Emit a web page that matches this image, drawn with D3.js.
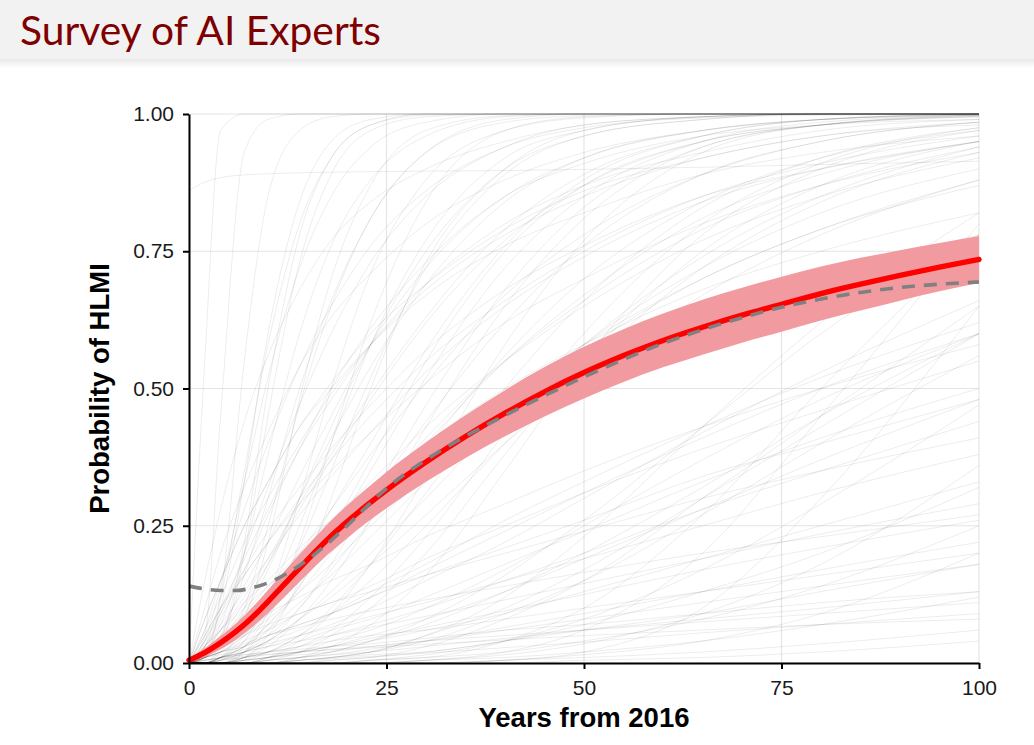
<!DOCTYPE html>
<html><head><meta charset="utf-8">
<script src="https://cdn.jsdelivr.net/npm/d3@7"></script>
<style>html,body{margin:0;padding:0;background:#fff;} svg{display:block}</style>
</head><body><svg id="c" width="1034" height="745"></svg>
<script>
// ---------- DATA ----------
const titleText = "Survey of AI Experts";
const xLabel = "Years from 2016";
const yLabel = "Probability of HLMI";
const xTicks = [0, 25, 50, 75, 100];
const yTicks = [0, 0.25, 0.5, 0.75, 1];

// individual expert CDFs, sampled at these years
const expertYears = [0, 2, 4, 7, 10, 14, 18, 23, 30, 40, 50, 65, 80, 100];
const expertCurves = [
  [0,.55,.97,1,1,1,1,1,1,1,1,1,1,1],
  [0,.05,.45,.93,.99,1,1,1,1,1,1,1,1,1],
  [0,.01,.12,.55,.85,.97,.995,1,1,1,1,1,1,1],
  [0,.02,.1,.33,.6,.84,.95,.99,1,1,1,1,1,1],
  [0,0,.03,.2,.45,.73,.89,.97,.995,1,1,1,1,1],
  [.86,.876,.884,.889,.891,.893,.894,.895,.896,.897,.899,.903,.908,.914],
  [0,.04,.14,.33,.52,.72,.85,.94,.985,1,1,1,1,1],
  [0,0,.01,.08,.22,.48,.7,.87,.97,.997,1,1,1,1],
  [0,.01,.05,.16,.3,.5,.66,.81,.93,.985,.997,1,1,1],
  [0,0,.005,.04,.12,.3,.5,.71,.88,.97,.993,1,1,1],
  [0,.03,.09,.2,.32,.47,.6,.73,.85,.94,.98,.995,1,1],
  [0,0,.01,.05,.12,.25,.4,.58,.77,.92,.97,.995,1,1],
  [0,.06,.15,.28,.4,.54,.65,.76,.86,.94,.975,.993,.998,1],
  [0,0,0,.01,.05,.15,.3,.5,.73,.9,.97,.995,1,1],
  [0,.02,.06,.14,.22,.34,.45,.58,.72,.85,.92,.97,.99,.998],
  [0,0,.01,.03,.07,.14,.23,.35,.52,.72,.85,.95,.985,.998],
  [0,.01,.03,.07,.12,.2,.28,.38,.51,.67,.78,.89,.95,.985],
  [0,0,0,.01,.03,.08,.15,.26,.43,.65,.81,.94,.98,.997],
  [0,.03,.07,.13,.19,.27,.34,.42,.53,.65,.74,.84,.9,.95],
  [0,0,.005,.02,.05,.1,.17,.26,.39,.56,.7,.84,.92,.97],
  [0,.02,.05,.09,.14,.2,.26,.33,.43,.55,.65,.77,.85,.92],
  [0,0,0,.005,.02,.05,.1,.18,.31,.5,.66,.83,.92,.975],
  [0,.04,.09,.16,.22,.3,.37,.45,.55,.66,.75,.85,.91,.96],
  [0,0,.01,.03,.06,.11,.16,.23,.33,.46,.58,.72,.82,.9],
  [0,0,0,0,.01,.03,.06,.12,.23,.42,.6,.8,.91,.975],
  [0,.01,.02,.05,.08,.13,.18,.25,.34,.46,.57,.7,.79,.88],
  [0,.05,.1,.17,.24,.32,.39,.47,.57,.68,.76,.85,.9,.95],
  [0,0,0,.01,.02,.05,.09,.15,.25,.4,.54,.72,.84,.93],
  [0,.01,.03,.06,.1,.16,.22,.3,.41,.55,.66,.79,.87,.94],
  [0,0,.01,.02,.04,.08,.12,.18,.27,.4,.52,.67,.78,.88],
  [0,.08,.15,.25,.33,.43,.5,.58,.67,.76,.82,.89,.93,.96],
  [0,0,0,0,0,.01,.03,.07,.16,.35,.55,.78,.9,.97],
  [0,.02,.04,.08,.12,.17,.22,.28,.37,.48,.58,.7,.79,.87],
  [0,0,.01,.04,.09,.18,.28,.4,.57,.76,.88,.96,.99,1],
  [0,.01,.04,.1,.18,.3,.41,.54,.69,.84,.92,.97,.99,.998],
  [0,0,0,.02,.06,.14,.24,.37,.55,.75,.87,.95,.98,.995],
  [0,.03,.08,.17,.27,.39,.5,.61,.73,.85,.91,.96,.98,.99],
  [0,0,.01,.02,.04,.06,.09,.13,.18,.26,.33,.43,.52,.62],
  [0,0,0,.005,.01,.02,.04,.06,.1,.17,.25,.37,.48,.6],
  [0,.01,.02,.04,.06,.09,.11,.14,.19,.25,.31,.39,.46,.55],
  [0,0,0,0,.005,.01,.02,.04,.07,.13,.2,.32,.45,.6],
  [0,.02,.04,.06,.09,.12,.15,.18,.23,.29,.35,.43,.5,.58],
  [0,0,.005,.01,.02,.04,.06,.08,.12,.18,.24,.33,.41,.5],
  [0,0,0,0,0,.005,.01,.02,.05,.1,.17,.3,.43,.6],
  [0,.01,.02,.03,.05,.07,.09,.12,.16,.21,.26,.34,.4,.48],
  [0,0,0,.01,.02,.03,.05,.07,.1,.15,.2,.28,.35,.44],
  [0,0,0,0,0,0,.005,.01,.03,.08,.15,.3,.45,.65],
  [0,.02,.03,.05,.07,.09,.11,.13,.16,.2,.24,.3,.35,.41],
  [0,0,0,0,.01,.02,.03,.05,.08,.13,.19,.28,.37,.48],
  [0,0,0,0,0,0,0,0,.005,.02,.06,.2,.45,.8],
  [0,0,0,0,0,0,0,.005,.01,.04,.1,.27,.5,.78],
  [0,0,0,0,0,0,0,0,0,.005,.02,.1,.3,.65],
  [0,0,0,0,0,.005,.01,.02,.05,.12,.23,.43,.62,.82],
  [0,0,0,.005,.01,.015,.02,.03,.04,.06,.08,.11,.14,.18],
  [0,0,0,0,0,.005,.01,.015,.02,.04,.06,.09,.13,.18],
  [0,.005,.01,.015,.02,.03,.04,.05,.06,.08,.1,.13,.16,.2],
  [0,0,0,0,0,0,0,.005,.01,.02,.04,.08,.14,.25],
  [0,0,0,0,.005,.01,.015,.02,.03,.045,.06,.08,.1,.13],
  [0,.005,.01,.015,.02,.025,.03,.035,.045,.06,.07,.09,.11,.13],
  [0,0,0,0,0,0,0,0,.005,.01,.02,.04,.07,.12],
  [0,0,0,0,0,.005,.008,.012,.018,.028,.038,.055,.07,.09],
  [0,0,0,0,0,0,0,0,0,.005,.01,.02,.035,.06],
  [0,.005,.008,.012,.016,.02,.024,.028,.034,.042,.05,.06,.07,.08],
  [0,0,0,.005,.01,.02,.03,.045,.065,.095,.125,.17,.21,.26],
  [0,0,0,0,0,0,.005,.01,.02,.04,.07,.13,.2,.32],
  [0,0,0,0,0,0,0,0,0,0,.005,.01,.02,.04],
  [0,0,.005,.01,.015,.02,.025,.03,.04,.05,.06,.075,.09,.11],
  [0,.15,.28,.44,.56,.68,.77,.84,.9,.95,.98,.995,1,1],
  [0,.08,.15,.25,.33,.43,.51,.6,.69,.79,.86,.92,.96,.98],
  [0,.05,.1,.16,.22,.29,.35,.42,.51,.62,.7,.8,.87,.93],
  [0,.03,.06,.1,.14,.19,.23,.28,.35,.44,.52,.62,.7,.78],
  [0,.1,.2,.32,.42,.54,.63,.71,.8,.88,.93,.97,.99,1],
  [0,0,.02,.1,.25,.47,.65,.81,.93,.99,1,1,1,1],
  [0,.01,.03,.09,.17,.3,.43,.58,.75,.9,.96,.99,1,1],
  [0,0,0,.03,.09,.21,.35,.52,.72,.89,.96,.99,1,1],
  [0,.02,.05,.11,.18,.28,.37,.48,.62,.77,.87,.95,.98,.995],
  [0,0,.01,.03,.07,.13,.2,.3,.44,.62,.76,.89,.95,.985],
  [0,.04,.1,.19,.28,.39,.48,.58,.69,.8,.87,.93,.97,.99],
  [0,0,0,0,.01,.04,.09,.18,.34,.58,.77,.93,.98,.998],
  [0,.01,.02,.05,.09,.15,.21,.29,.4,.55,.67,.81,.89,.95],
  [0,0,0,.01,.04,.1,.18,.3,.47,.68,.83,.94,.98,.996],
  [0,.06,.12,.22,.3,.4,.49,.58,.68,.78,.85,.92,.96,.985],
  [0,0,.005,.02,.04,.08,.13,.2,.3,.45,.58,.74,.85,.94],
  [0,.02,.06,.12,.19,.29,.38,.49,.63,.79,.89,.96,.99,1],
  [0,0,0,0,.005,.02,.05,.1,.2,.38,.55,.75,.87,.95],
  [0,.03,.06,.11,.15,.21,.26,.32,.4,.5,.58,.68,.75,.82],
  [0,0,.01,.02,.03,.05,.07,.1,.15,.22,.3,.42,.53,.66],
  [0,0,0,0,0,.01,.02,.04,.08,.16,.26,.43,.6,.78],
  [0,.01,.02,.03,.05,.07,.09,.12,.17,.24,.31,.41,.5,.6],
  [0,0,0,0,0,0,.01,.02,.04,.09,.15,.27,.4,.56],
  [0,.01,.015,.025,.035,.05,.065,.085,.11,.15,.19,.25,.31,.38],
  [0,0,0,.005,.01,.02,.03,.04,.06,.09,.13,.19,.25,.33],
  [0,0,0,0,0,0,0,.005,.015,.04,.08,.17,.29,.47],
  [0,.005,.01,.02,.03,.04,.05,.065,.085,.115,.145,.19,.235,.29],
  [0,0,0,0,0,0,0,0,.005,.015,.035,.09,.18,.36],
  [0,.01,.02,.035,.05,.065,.08,.095,.115,.14,.165,.2,.23,.27],
  [0,0,0,0,.005,.01,.015,.025,.04,.065,.09,.13,.17,.22],
  [0,0,0,0,0,0,0,0,0,.005,.015,.04,.09,.2],
  [0,.02,.07,.2,.38,.6,.76,.88,.96,.995,1,1,1,1],
  [0,0,.04,.22,.5,.78,.92,.98,1,1,1,1,1,1],
  [0,.03,.12,.35,.58,.8,.92,.98,.998,1,1,1,1,1],
  [0,0,0,.02,.08,.22,.4,.62,.84,.97,.995,1,1,1]
];

// aggregate curves
const aggYears = [0,2,4,6,8,10,12.5,15,17.5,20,22.5,25,30,35,40,45,50,55,60,65,70,75,80,85,90,95,100];
const meanProb = [0.005,0.019,0.037,0.058,0.083,0.112,0.15,0.188,0.2245,0.257,0.287,0.315,0.366,0.4125,0.455,0.494,0.529,0.56,0.5875,0.6115,0.6335,0.6535,0.673,0.69,0.706,0.721,0.735];
const bandLow  = [0.001,0.011,0.025,0.043,0.065,0.091,0.126,0.162,0.1965,0.227,0.256,0.282,0.33,0.3735,0.413,0.449,0.482,0.512,0.5385,0.5615,0.5835,0.6035,0.624,0.642,0.66,0.677,0.692];
const bandHigh = [0.009,0.027,0.049,0.073,0.101,0.133,0.174,0.214,0.2525,0.287,0.318,0.348,0.402,0.4515,0.497,0.539,0.576,0.608,0.6365,0.6615,0.6835,0.7035,0.722,0.738,0.752,0.765,0.778];
const fitProb  = [0.14,0.135,0.132,0.132,0.137,0.146,0.164,0.188,0.217,0.25,0.285,0.318,0.37,0.413,0.451,0.487,0.521,0.553,0.582,0.607,0.629,0.648,0.663,0.675,0.684,0.69,0.694];

// ---------- DRAW ----------
const svg = d3.select("#c");
const W = 1034, H = 745;
const plot = {left: 189, right: 979, top: 114, bottom: 663};

// title band
const defs = svg.append("defs");
const grad = defs.append("linearGradient").attr("id","shadow").attr("x1",0).attr("y1",0).attr("x2",0).attr("y2",1);
grad.append("stop").attr("offset","0%").attr("stop-color","#e9e9e9");
grad.append("stop").attr("offset","100%").attr("stop-color","#ffffff");
svg.append("rect").attr("x",0).attr("y",0).attr("width",W).attr("height",59).attr("fill","#f2f2f2");
svg.append("rect").attr("x",0).attr("y",59).attr("width",W).attr("height",9).attr("fill","url(#shadow)");
const title = svg.append("text").attr("x",20).attr("y",45)
  .attr("fill","#7f0000").style("font-family","Lato, 'Open Sans', sans-serif")
  .style("font-size","40px").text(titleText);
const tw = title.node().getComputedTextLength();
title.style("font-size", (40*361/tw).toFixed(2)+"px");

const x = d3.scaleLinear().domain([0,100]).range([plot.left, plot.right]);
const y = d3.scaleLinear().domain([0,1]).range([plot.bottom, plot.top]);

// grid
const grid = svg.append("g");
grid.selectAll("line.h").data(yTicks).join("line")
  .attr("x1",plot.left).attr("x2",plot.right).attr("y1",d=>y(d)).attr("y2",d=>y(d))
  .attr("stroke","#e4e4e4").attr("stroke-width",1.1);
grid.selectAll("line.v").data(xTicks).join("line")
  .attr("y1",plot.top).attr("y2",plot.bottom).attr("x1",d=>x(d)).attr("x2",d=>x(d))
  .attr("stroke","#e4e4e4").attr("stroke-width",1.1);

// expert curves
const expLine = d3.line().x((d,i)=>x(expertYears[i])).y(d=>y(d)).curve(d3.curveMonotoneX);
svg.append("g").selectAll("path").data(expertCurves).join("path")
  .attr("d", expLine).attr("fill","none").attr("stroke","#000")
  .attr("stroke-opacity",0.085).attr("stroke-width",0.9);

// band
const area = d3.area().x((d,i)=>x(aggYears[i])).y0((d,i)=>y(bandLow[i])).y1((d,i)=>y(bandHigh[i])).curve(d3.curveMonotoneX);
svg.append("path").datum(aggYears).attr("d", area).attr("fill","#f0969c").attr("fill-opacity",0.95);

// mean line
const aggLine = d3.line().x((d,i)=>x(aggYears[i])).y(d=>y(d)).curve(d3.curveMonotoneX);
svg.append("path").datum(meanProb).attr("d", aggLine).attr("fill","none")
  .attr("stroke","#ff0000").attr("stroke-width",5.4).attr("stroke-linecap","round");
// fitted dashed
svg.append("path").datum(fitProb).attr("d", aggLine).attr("fill","none")
  .attr("stroke","#808080").attr("stroke-width",3.6).attr("stroke-dasharray","13,9");

// axes
const fontTick = "'Liberation Sans', Arial, Helvetica, sans-serif";
const yAxis = svg.append("g").attr("transform",`translate(${plot.left},0)`)
  .call(d3.axisLeft(y).tickValues(yTicks).tickFormat(d3.format(".2f")).tickSize(6).tickPadding(9).tickSizeOuter(0));
const xAxis = svg.append("g").attr("transform",`translate(0,${plot.bottom})`)
  .call(d3.axisBottom(x).tickValues(xTicks).tickFormat(d3.format("d")).tickSize(6).tickPadding(11).tickSizeOuter(0));
[yAxis, xAxis].forEach(a=>{
  a.select(".domain").attr("stroke","#000").attr("stroke-width",2);
  a.selectAll(".tick line").attr("stroke","#000").attr("stroke-width",2);
  a.selectAll(".tick text").attr("fill","#1a1a1a").style("font-family",fontTick).style("font-size","21px");
});

// axis titles
svg.append("text").attr("x", (plot.left+plot.right)/2).attr("y", 727).attr("text-anchor","middle")
  .style("font-family",fontTick).style("font-weight","bold").style("font-size","27.5px").attr("fill","#000").text(xLabel);
svg.append("text").attr("transform",`translate(109,${(plot.top+plot.bottom)/2}) rotate(-90)`).attr("text-anchor","middle")
  .style("font-family",fontTick).style("font-weight","bold").style("font-size","27.5px").attr("fill","#000").text(yLabel);
</script></body></html>
